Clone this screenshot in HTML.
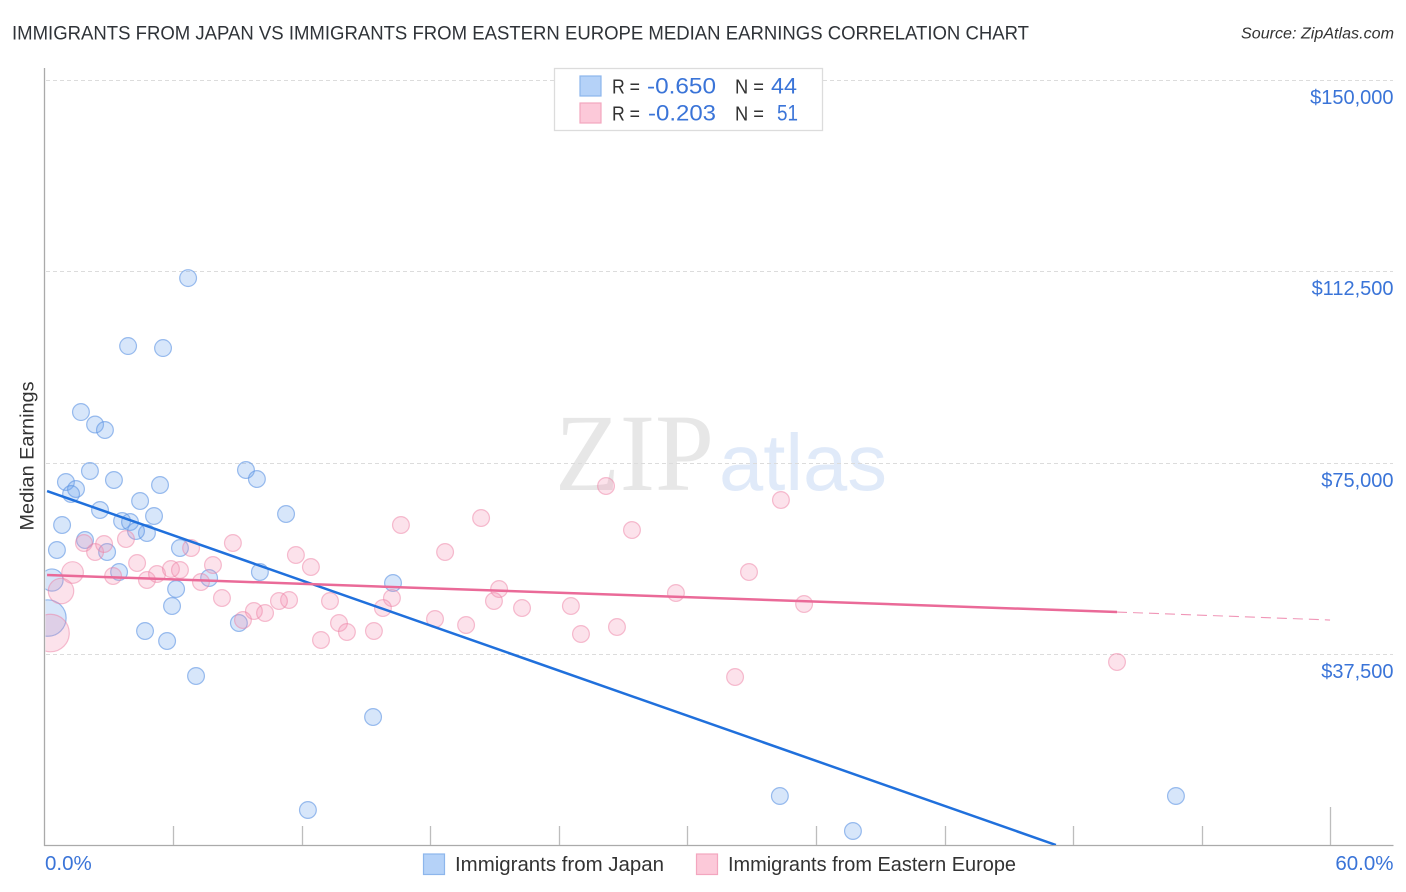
<!DOCTYPE html>
<html lang="en">
<head>
<meta charset="utf-8">
<title>Immigrants from Japan vs Immigrants from Eastern Europe Median Earnings Correlation Chart</title>
<style>
html,body{margin:0;padding:0;background:#fff;width:1406px;height:892px;overflow:hidden}
svg{display:block;font-family:"Liberation Sans",sans-serif}
</style>
</head>
<body>
<svg id="chart" width="1406" height="892" viewBox="0 0 1406 892" xmlns="http://www.w3.org/2000/svg">
<defs><clipPath id="plot-clip"><rect x="45.5" y="60" width="1348" height="785"/></clipPath></defs>
<text x="12" y="39.5" font-size="19.5" fill="#2f3338" textLength="1017" lengthAdjust="spacingAndGlyphs">IMMIGRANTS FROM JAPAN VS IMMIGRANTS FROM EASTERN EUROPE MEDIAN EARNINGS CORRELATION CHART</text>
<text x="1241" y="38.5" font-size="15.5" font-style="italic" fill="#333" textLength="153" lengthAdjust="spacingAndGlyphs">Source: ZipAtlas.com</text>
<g id="watermark">
<text x="555" y="490" font-family="'Liberation Serif',serif" font-size="110" fill="#e7e7e7" textLength="159" lengthAdjust="spacingAndGlyphs">ZIP</text>
<text x="719" y="490" font-size="80" fill="#e0eaf9" textLength="168" lengthAdjust="spacingAndGlyphs">atlas</text>
</g>
<g id="grid"></g>
<g id="axes"></g>
<g id="points" clip-path="url(#plot-clip)"></g>
<g id="trends" clip-path="url(#plot-clip)"></g>
<g id="ticklabels"></g>
<text transform="translate(33.5,456) rotate(-90)" text-anchor="middle" font-size="19" fill="#333" textLength="149" lengthAdjust="spacingAndGlyphs">Median Earnings</text>

<g>
<rect x="554.5" y="68.5" width="268" height="62" fill="#fff" stroke="#dcdcdc" stroke-width="1.3"/>
<rect x="580" y="76" width="21" height="20" fill="#b5d2f8" stroke="#8db6ec" stroke-width="1.2"/>
<rect x="580" y="103" width="21" height="20" fill="#fcc9d9" stroke="#f3a6bf" stroke-width="1.2"/>
<g font-size="22">
<text x="612" y="93.5" fill="#333" font-size="20" textLength="28" lengthAdjust="spacingAndGlyphs">R =</text>
<text x="647" y="93.5" fill="#3a74d8" textLength="69" lengthAdjust="spacingAndGlyphs">-0.650</text>
<text x="735" y="93.5" fill="#333" font-size="20" textLength="29" lengthAdjust="spacingAndGlyphs">N =</text>
<text x="771" y="93.5" fill="#3a74d8" textLength="26" lengthAdjust="spacingAndGlyphs">44</text>
<text x="612" y="120.5" fill="#333" font-size="20" textLength="28" lengthAdjust="spacingAndGlyphs">R =</text>
<text x="648" y="120.5" fill="#3a74d8" textLength="68" lengthAdjust="spacingAndGlyphs">-0.203</text>
<text x="735" y="120.5" fill="#333" font-size="20" textLength="29" lengthAdjust="spacingAndGlyphs">N =</text>
<text x="777" y="120.5" fill="#3a74d8" textLength="21" lengthAdjust="spacingAndGlyphs">51</text>
</g>
</g>

<g>
<rect x="423.5" y="854" width="21" height="20.5" fill="#b5d2f8" stroke="#8db6ec" stroke-width="1.2"/>
<text x="455" y="871" font-size="20" fill="#333" textLength="209" lengthAdjust="spacingAndGlyphs">Immigrants from Japan</text>
<rect x="696.5" y="854" width="21" height="20.5" fill="#fcc9d9" stroke="#f3a6bf" stroke-width="1.2"/>
<text x="728" y="871" font-size="20" fill="#333" textLength="288" lengthAdjust="spacingAndGlyphs">Immigrants from Eastern Europe</text>
</g>
</svg>

<script>
const yTickValues = [150000, 112500, 75000, 37500];
const yTickLabels = ["$150,000", "$112,500", "$75,000", "$37,500"];
const xTickValues = [6, 12, 18, 24, 30, 36, 42, 48, 54, 60];
const xEdgeLabels = ["0.0%", "60.0%"];

const japanPct = [6.70,3.90,5.53,1.70,2.36,2.82,2.12,3.24,1.00,1.47,1.24,5.39,9.40,9.91,4.46,2.59,5.11,11.27,3.62,3.99,0.82,4.78,4.27,1.89,0.58,2.92,6.32,3.48,0.35,10.05,7.68,16.26,6.14,5.95,0.16,4.69,9.07,5.72,7.07,15.33,12.29,34.31,37.72,52.79];
const japanEarnings = [111214,97900,97508,84977,82530,81453,73425,71663,71271,69901,68922,70684,73621,71859,67551,65789,64614,65006,63635,63439,62852,61285,61677,59915,57957,57565,58348,53649,52083,53649,52474,51495,50321,46992,44642,42097,43663,40139,33286,25258,7049,9790,2937,9790];
const japanWeights = [1,1,1,1,1,1,1,1,1,1,1,1,1,1,1,1,1,1,1,1,1,1,1,1,1,1,1,1,1.75,1,1,1,1,1,4.7,1,1,1,1,1,1,1,1,1];

const europePct = [26.20,34.36,16.63,20.37,27.41,8.79,18.69,11.73,6.84,1.84,2.36,2.78,3.80,4.32,7.86,12.43,1.31,3.20,4.78,5.25,5.90,6.32,7.30,0.77,8.28,21.21,32.87,29.46,20.97,16.21,13.32,11.41,10.94,9.77,10.29,9.26,15.79,22.28,24.56,35.44,18.22,19.67,13.74,15.37,14.11,12.90,25.03,26.71,32.22,50.04,0.28];
const europeEarnings = [70488,67747,62852,64222,61873,59327,57565,56978,58348,59327,57565,59132,60111,55411,55020,54628,53551,52866,52083,53258,54237,54041,51691,49929,48558,50321,53649,49537,47971,48558,47971,48167,47971,46013,45621,44251,46600,46600,46992,47384,44447,43272,43663,42097,41901,40335,41510,42880,33090,36027,41705];
const europeWeights = [1,1,1,1,1,1,1,1,1,1,1,1,1,1,1,1,1.66,1,1,1,1,1,1,2.3,1,1,1,1,1,1,1,1,1,1,1,1,1,1,1,1,1,1,1,1,1,1,1,1,1,1,5];

const japanTrendPct = [0.12, 47.19];
const japanTrendEarnings = [69509, 196];
const europeTrendPct = [0.12, 50.04];
const europeTrendEarnings = [53062, 45817];
const europeDashPct = [50.04, 59.98];
const europeDashEarnings = [45817, 44251];

const NS = "http://www.w3.org/2000/svg";
function xScale(p) { return 44.5 + p * 21.433; }
function yScale(v) { return 846 - v * 0.0051067; }
function make(tag, attrs, parent) {
  const el = document.createElementNS(NS, tag);
  for (const k in attrs) el.setAttribute(k, attrs[k]);
  parent.appendChild(el);
  return el;
}

const gridG = document.getElementById("grid");
const axesG = document.getElementById("axes");
const labelG = document.getElementById("ticklabels");
const pointsG = document.getElementById("points");
const trendsG = document.getElementById("trends");

yTickValues.forEach(function (v, i) {
  const y = Math.round(yScale(v)) + 0.5;
  const line = make("line", {x1: 46, x2: 1393, y1: y, y2: y, stroke: "#dcdcdc", "stroke-width": 1, "stroke-dasharray": "4 3"}, gridG);
  
  
  const t = make("text", {x: 1393.5, y: y + 23.5, "text-anchor": "end", "font-size": 20, fill: "#3a74d8"}, labelG);
  t.textContent = yTickLabels[i];
  
  
});

const yAxis = make("line", {x1: 44.5, x2: 44.5, y1: 68, y2: 846, stroke: "#aaa", "stroke-width": 1.3}, axesG);


const xAxis = make("line", {x1: 44, x2: 1393.5, y1: 845.5, y2: 845.5, stroke: "#aaa", "stroke-width": 1.3}, axesG);



xTickValues.forEach(function (p, i) {
  const x = Math.round(xScale(p)) + 0.5;
  const top = i === xTickValues.length - 1 ? 807 : 826;
  const tick = make("line", {x1: x, x2: x, y1: top, y2: 845, stroke: "#bdbdbd", "stroke-width": 1.3}, axesG);
  
  
});

const xMin = make("text", {x: 45, y: 870, "font-size": 20.5, fill: "#3a74d8"}, labelG);
xMin.textContent = xEdgeLabels[0];


const xMax = make("text", {x: 1393.5, y: 870, "text-anchor": "end", "font-size": 20.5, fill: "#3a74d8"}, labelG);
xMax.textContent = xEdgeLabels[1];



japanPct.forEach(function (p, i) {
  const c = make("circle", {cx: xScale(p), cy: yScale(japanEarnings[i]), r: 8.4 * Math.sqrt(japanWeights[i]), fill: "#6ea6ee", "fill-opacity": 0.28, stroke: "#5b93e2", "stroke-opacity": 0.6, "stroke-width": 1.2}, pointsG);
  
  
});
europePct.forEach(function (p, i) {
  const c = make("circle", {cx: xScale(p), cy: yScale(europeEarnings[i]), r: 8.4 * Math.sqrt(europeWeights[i]), fill: "#f58fb0", "fill-opacity": 0.26, stroke: "#ee7fa4", "stroke-opacity": 0.5, "stroke-width": 1.2}, pointsG);
  
  
});

const japanLine = make("line", {x1: xScale(japanTrendPct[0]), y1: yScale(japanTrendEarnings[0]), x2: xScale(japanTrendPct[1]), y2: yScale(japanTrendEarnings[1]), stroke: "#2070dc", "stroke-width": 2.5}, trendsG);


const europeLine = make("line", {x1: xScale(europeTrendPct[0]), y1: yScale(europeTrendEarnings[0]), x2: xScale(europeTrendPct[1]), y2: yScale(europeTrendEarnings[1]), stroke: "#ea6a98", "stroke-width": 2.5}, trendsG);


const europeDash = make("line", {x1: xScale(europeDashPct[0]), y1: yScale(europeDashEarnings[0]), x2: xScale(europeDashPct[1]), y2: yScale(europeDashEarnings[1]), stroke: "#ea6a98", "stroke-opacity": 0.7, "stroke-width": 1.1, "stroke-dasharray": "10 6"}, trendsG);


</script>
</body>
</html>
